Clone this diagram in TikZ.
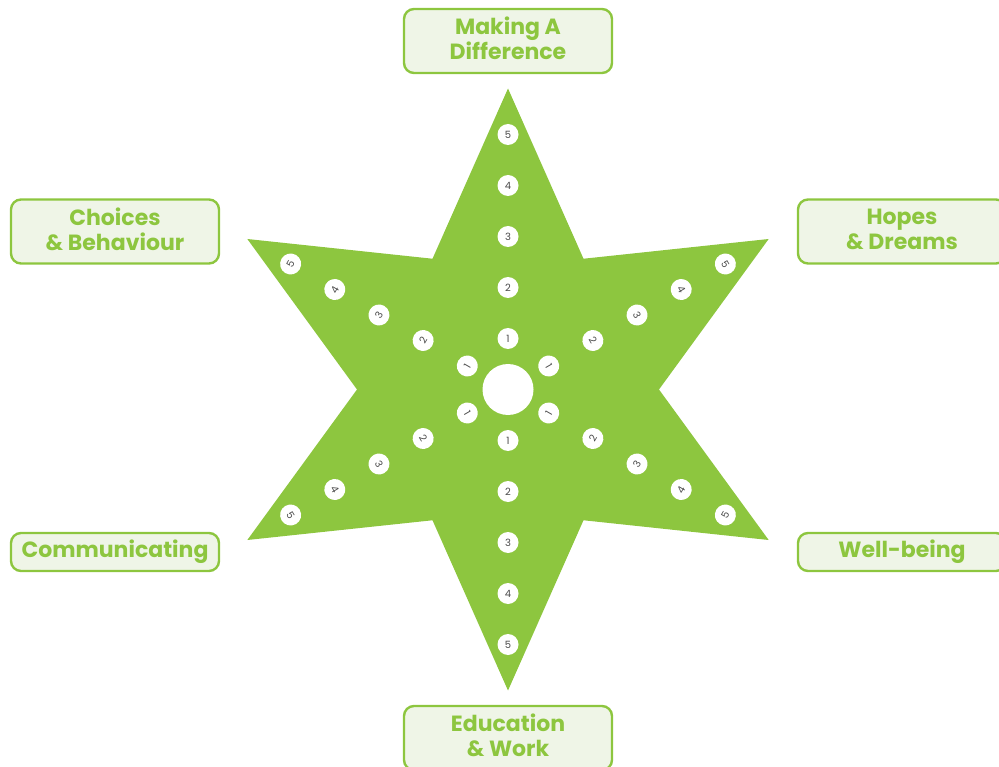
\documentclass[tikz,border=0pt]{standalone}
\usepackage{fontspec}
\setmainfont{Poppins}
\usetikzlibrary{calc}
\definecolor{leaf}{HTML}{8DC63F}
\definecolor{mist}{HTML}{EFF5E7}
\definecolor{ink}{HTML}{4A4A4A}
\begin{document}
\begin{tikzpicture}[x=1pt,y=-1pt,
  tag/.style={draw=leaf, line width=2.4pt, fill=mist, rounded corners=10pt,
    minimum width=208pt, inner sep=0pt},
  twoline/.style={tag, minimum height=64pt},
  oneline/.style={tag, minimum height=38pt},
  tagtext/.style={inner sep=0pt, text=leaf, align=center,
    font=\fontsize{22}{25}\selectfont\bfseries},
  dot/.style={circle, fill=white, minimum size=21pt, inner sep=0pt,
    text=ink, font=\fontsize{10}{10}\selectfont}]
\useasboundingbox (0,0) rectangle (999,767);

% six-pointed star
\coordinate (c) at (508,389.5);
\fill[leaf, shift={(508,389.5)}]
  (-90:301) -- (-60:151) -- (-30:301) -- (0:151) -- (30:301) -- (60:151)
  -- (90:301) -- (120:151) -- (150:301) -- (180:151) -- (210:301) -- (240:151) -- cycle;
\node[circle, fill=white, minimum size=51pt, inner sep=0pt] (hub) at (c) {};

% scale markers along each arm
\foreach \k in {1,...,5}{
  \pgfmathsetmacro{\rv}{51*\k}
  \pgfmathsetmacro{\rd}{51*\k-4}
  \node[dot] (top-\k) at ($(c)+(-90:\rv)$) {\k};
  \node[dot] (bot-\k) at ($(c)+(90:\rv)$) {\k};
  \node[dot, rotate=-60] (ur-\k) at ($(c)+(-30:\rd)$) {\k};
  \node[dot, rotate=60] (ul-\k) at ($(c)+(210:\rd)$) {\k};
  \node[dot, rotate=60] (lr-\k) at ($(c)+(30:\rd)$) {\k};
  \node[dot, rotate=-60] (ll-\k) at ($(c)+(150:\rd)$) {\k};
}

% label boxes
\node[twoline] (making) at (508,41) {};
\node[twoline] (choices) at (115,231.5) {};
\node[twoline] (hopes) at (902,231.5) {};
\node[oneline] (comm) at (115,552) {};
\node[oneline] (well) at (902,552) {};
\node[twoline] (edu) at (508,738) {};

% label texts
\node[tagtext] (making-t) at (508,38.5) {Making A\\Difference};
\node[tagtext] (choices-t) at (115,229) {Choices\\\& Behaviour};
\node[tagtext] (hopes-t) at (902,229) {Hopes\\\& Dreams};
\node[tagtext] (comm-t) at (115,552) {Communicating};
\node[tagtext] (well-t) at (902,552) {Well-being};
\node[tagtext] (edu-t) at (508,735.5) {Education\\\& Work};
\end{tikzpicture}
\end{document}
